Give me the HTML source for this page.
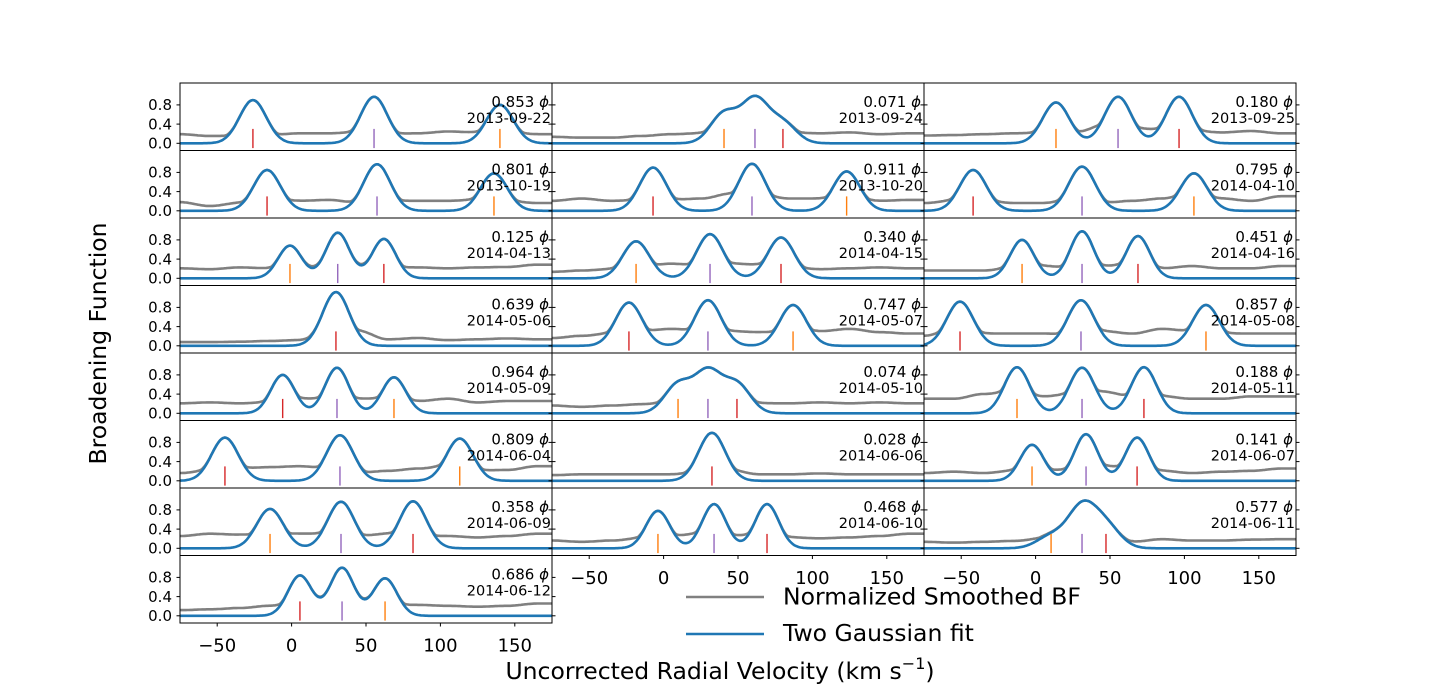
<!DOCTYPE html>
<html><head><meta charset="utf-8">
<style>
html,body{margin:0;padding:0;background:#fff;}
svg{display:block;font-family:"DejaVu Sans","Liberation Sans",sans-serif;}
</style></head>
<body>
<svg id="fig" width="1440" height="700" viewBox="0 0 1440 700" xmlns="http://www.w3.org/2000/svg">
<defs id="defs"></defs>
<g id="panels"></g>
<text x="106" y="343.5" font-size="23.5" text-anchor="middle" transform="rotate(-90 106 343.5)">Broadening Function</text>
<text x="720" y="679" font-size="23.5" text-anchor="middle">Uncorrected Radial Velocity (km s<tspan font-size="16" dy="-10">−1</tspan><tspan dy="10">)</tspan></text>
<g>
<line x1="686" y1="597" x2="764" y2="597" stroke="#808080" stroke-width="2.6"/>
<text x="783" y="604.5" font-size="23.5">Normalized Smoothed BF</text>
<line x1="686" y1="634" x2="764" y2="634" stroke="#1f77b4" stroke-width="2.6"/>
<text x="783" y="641" font-size="23.5">Two Gaussian fit</text>
</g>
</svg>
<script>
// ---- data ----
const phases = ["0.853","0.801","0.125","0.639","0.964","0.809","0.358","0.686",
  "0.071","0.911","0.340","0.747","0.074","0.028","0.468",
  "0.180","0.795","0.451","0.857","0.188","0.141","0.577"];
const dates = ["2013-09-22","2013-10-19","2014-04-13","2014-05-06","2014-05-09","2014-06-04","2014-06-09","2014-06-12",
  "2013-09-24","2013-10-20","2014-04-15","2014-05-07","2014-05-10","2014-06-06","2014-06-10",
  "2013-09-25","2014-04-10","2014-04-16","2014-05-08","2014-05-11","2014-06-07","2014-06-11"];
const panelCol = [0,0,0,0,0,0,0,0, 1,1,1,1,1,1,1, 2,2,2,2,2,2,2];
const panelRow = [0,1,2,3,4,5,6,7, 0,1,2,3,4,5,6, 0,1,2,3,4,5,6];
const redV    = [-26,-16.5,62,29.8,-6,-44.8,81.6,5.6, 80.2,-7.1,78.9,-23.3,49.3,32.5,69.5, 96.4,-42,68.8,-50.8,72.8,68.2,47.3];
const purpleV = [55.4,57.4,31,null,30.5,32.5,33.2,33.9, 61.4,59.4,31.2,29.8,29.8,null,33.9, 55.4,31.2,31.2,30.5,31.2,33.9,31.2];
const orangeV = [140,136,-1.1,null,68.8,113,-14.5,62.8, 40.6,123,-18.5,87,9.7,null,-3.8, 13.7,106.4,-9.1,114.5,-12.5,-2.4,10.4];
const redA    = [0.9,0.85,0.82,1.12,0.8,0.9,0.98,0.84, 0.42,0.9,0.85,0.9,0.6,1.0,0.92, 0.97,0.85,0.88,0.92,0.96,0.9,0.45];
const purpleA = [0.97,0.97,0.95,0,0.95,0.95,0.97,1.0, 0.9,0.98,0.92,0.95,0.85,0,0.92, 0.97,0.92,0.98,0.95,0.95,0.97,0.85];
const orangeA = [0.8,0.78,0.68,0,0.75,0.88,0.82,0.78, 0.62,0.82,0.77,0.85,0.6,0,0.78, 0.85,0.78,0.8,0.85,0.96,0.75,0.25];
const sigmas  = [9,9,8,9,8,9,9,8, 9,9,9,9,9,9,8, 9,9,8,9,8.5,8,9.5];
const bgLevels = [
 [0.18,0.14,0.12,0.15,0.2,0.2,0.22,0.18,0.2,0.24,0.22,0.2,0.18],
 [0.17,0.08,0.15,0.14,0.2,0.22,0.15,0.18,0.2,0.2,0.22,0.18,0.15],
 [0.2,0.18,0.22,0.2,0.2,0.22,0.22,0.2,0.22,0.2,0.22,0.23,0.28],
 [0.05,0.05,0.06,0.08,0.1,0.25,0.3,0.12,0.15,0.1,0.12,0.14,0.12],
 [0.2,0.22,0.2,0.22,0.3,0.3,0.3,0.3,0.25,0.3,0.22,0.25,0.25],
 [0.15,0.2,0.25,0.28,0.3,0.25,0.15,0.2,0.25,0.3,0.2,0.22,0.3],
 [0.25,0.3,0.28,0.2,0.3,0.3,0.25,0.3,0.2,0.25,0.22,0.25,0.3],
 [0.1,0.12,0.15,0.2,0.22,0.25,0.25,0.2,0.22,0.2,0.18,0.2,0.25],
 [0.12,0.1,0.1,0.14,0.18,0.2,0.25,0.3,0.2,0.2,0.22,0.18,0.2],
 [0.2,0.25,0.2,0.2,0.22,0.25,0.35,0.3,0.25,0.25,0.22,0.2,0.22],
 [0.12,0.15,0.18,0.22,0.3,0.25,0.3,0.28,0.2,0.18,0.2,0.22,0.2],
 [0.15,0.2,0.25,0.3,0.35,0.3,0.3,0.28,0.25,0.3,0.35,0.28,0.25],
 [0.15,0.12,0.15,0.18,0.2,0.22,0.3,0.2,0.2,0.22,0.2,0.22,0.2],
 [0.1,0.12,0.12,0.12,0.12,0.15,0.2,0.12,0.12,0.14,0.12,0.12,0.12],
 [0.15,0.12,0.15,0.2,0.25,0.3,0.25,0.28,0.22,0.2,0.22,0.25,0.3],
 [0.15,0.16,0.18,0.2,0.2,0.2,0.35,0.3,0.28,0.25,0.22,0.25,0.2],
 [0.15,0.2,0.18,0.15,0.15,0.2,0.15,0.2,0.25,0.3,0.25,0.2,0.3],
 [0.15,0.15,0.15,0.2,0.25,0.2,0.25,0.28,0.2,0.25,0.2,0.2,0.25],
 [0.2,0.3,0.25,0.25,0.25,0.2,0.3,0.25,0.35,0.3,0.25,0.25,0.25],
 [0.3,0.3,0.4,0.45,0.35,0.4,0.45,0.35,0.35,0.3,0.3,0.35,0.35],
 [0.15,0.18,0.15,0.2,0.2,0.22,0.3,0.25,0.2,0.15,0.18,0.2,0.25],
 [0.12,0.1,0.12,0.14,0.18,0.2,0.2,0.12,0.18,0.15,0.15,0.17,0.18]
];
const xTicks = [-50,0,50,100,150];
const xTickLabels = ["−50","0","50","100","150"];
const yTicks = [0.0,0.4,0.8];
const yTickLabels = ["0.0","0.4","0.8"];

const colLeft = [180,552,924], colW = 372, rowTop0 = 83, rowH = 67.5;
const xMin = -75, xMax = 175, yPx = 48, zeroOff = 7.2;
function xs(c, v){ return colLeft[c] + (v - xMin) * colW / (xMax - xMin); }
function ys(r, val){ return rowTop0 + (r+1)*rowH - zeroOff - val*yPx; }
const NS = "http://www.w3.org/2000/svg";
function mk(tag, attrs, parent){ const e=document.createElementNS(NS,tag); for(const k in attrs) e.setAttribute(k,attrs[k]); parent.appendChild(e); return e; }
const root = document.getElementById('panels');
const defs = document.getElementById('defs');

function fitAt(i, v){
  const s = sigmas[i]; let y = 0;
  const comps = [[redV[i],redA[i]],[purpleV[i],purpleA[i]],[orangeV[i],orangeA[i]]];
  for (const [c,a] of comps){ if (c===null||!a) continue; y += a*Math.exp(-((v-c)**2)/(2*s*s)); }
  return y;
}
function bgAt(i, v){
  const arr = bgLevels[i]; const t = (v - xMin)/20; const k = Math.max(0, Math.min(arr.length-2, Math.floor(t)));
  const f = Math.max(0, Math.min(1, t-k)); const u = (1-Math.cos(f*Math.PI))/2;
  return arr[k]*(1-u)+arr[k+1]*u;
}

for (let i=0;i<phases.length;i++){
  const c = panelCol[i], r = panelRow[i];
  const x0 = colLeft[c], y0 = rowTop0 + r*rowH;
  const g = mk('g',{},root);
  
  
  const cp = mk('clipPath',{id:'cp'+i},defs);
  mk('rect',{x:x0,y:y0,width:colW,height:rowH},cp);
  const lines = mk('g',{'clip-path':'url(#cp'+i+')'},g);
  let dG = "", dB = "";
  for (let v=xMin; v<=xMax; v+=1){
    const f = fitAt(i,v);
    const b = bgAt(i,v);
    const gv = Math.max(f, b) + 0.04*Math.exp(-Math.abs(f-b)*8);
    dG += (v===xMin?"M":"L")+xs(c,v).toFixed(1)+","+ys(r,gv).toFixed(1);
    dB += (v===xMin?"M":"L")+xs(c,v).toFixed(1)+","+ys(r,f).toFixed(1);
  }
  const pg = mk('path',{d:dG,fill:'none',stroke:'#808080','stroke-width':2.6,'stroke-linejoin':'round'},lines);
  
  
  const pb = mk('path',{d:dB,fill:'none',stroke:'#1f77b4','stroke-width':2.6,'stroke-linejoin':'round'},lines);
  
  
  const marks = [[redV[i],'#d62728','red'],[purpleV[i],'#9467bd','purple'],[orangeV[i],'#ff7f0e','orange']];
  for (const [v,col,nm] of marks){
    if (v===null) continue;
    const ln = mk('line',{x1:xs(c,v),x2:xs(c,v),y1:ys(r,0.3),y2:ys(r,-0.1),stroke:col,'stroke-width':1.4},lines);
    
    
  }
  const fr = mk('rect',{x:x0,y:y0,width:colW,height:rowH,fill:'none',stroke:'#000','stroke-width':1},g);
  
  
  for (let k=0;k<yTicks.length;k++){
    const yy = ys(r,yTicks[k]);
    mk('line',{x1:x0-3.5,x2:x0,y1:yy,y2:yy,stroke:'#000','stroke-width':1},g);
    mk('line',{x1:x0+colW,x2:x0+colW+3.5,y1:yy,y2:yy,stroke:'#000','stroke-width':1},g);
    if (c===0){
      const t = mk('text',{x:x0-8,y:yy+5.3,'font-size':15,'text-anchor':'end'},g);
      t.textContent = yTickLabels[k];
      
      
    }
  }
  const t1 = mk('text',{x:x0+colW-3,y:y0+24,'font-size':15,'text-anchor':'end'},g);
  t1.textContent = phases[i]+" ";
  const ph = mk('tspan',{'font-style':'italic'},t1); ph.textContent = "ϕ";
  
  
  const t2 = mk('text',{x:x0+colW-1,y:y0+40,'font-size':14.5,'text-anchor':'end'},g);
  t2.textContent = dates[i];
  
  
  const isBottom = (c===0 && r===7) || (c>0 && r===6);
  if (isBottom){
    const yb = y0 + rowH;
    for (let k=0;k<xTicks.length;k++){
      const xx = xs(c,xTicks[k]);
      mk('line',{x1:xx,x2:xx,y1:yb,y2:yb+3.5,stroke:'#000','stroke-width':1},g);
      const t = mk('text',{x:xx,y:yb+28.5,'font-size':18,'text-anchor':'middle'},g);
      t.textContent = xTickLabels[k];
      
      
    }
  }
}
</script>
</body></html>
